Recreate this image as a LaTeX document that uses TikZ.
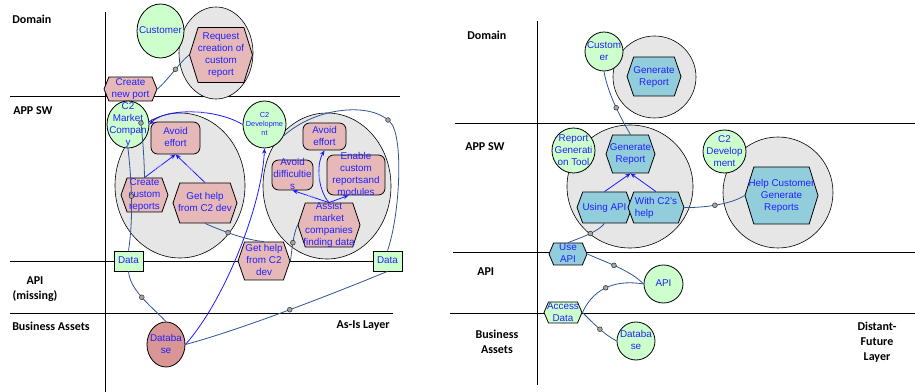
\documentclass[tikz,border=0pt]{standalone}
\usepackage{fontspec}
\setmainfont{Liberation Sans}
\newfontfamily\headfont{Carlito}
\usetikzlibrary{shapes.symbols,shapes.geometric,arrows.meta}
\definecolor{gfill}{HTML}{CCFFCC}
\definecolor{pfill}{HTML}{E6B9B8}
\definecolor{dbfill}{HTML}{D99694}
\definecolor{grayfill}{HTML}{E6E6E6}
\definecolor{tfill}{HTML}{92CDDC}
\definecolor{dline}{HTML}{2F5597}
\definecolor{bline}{HTML}{1A1AFF}
\definecolor{txt}{HTML}{2020FF}
\newcommand\tx[1]{\makebox[0pt]{\smash{\raisebox{-0.27em}{\begin{tabular}[c]{@{}c@{}}#1\end{tabular}}}}}
\newcommand\txl[1]{\makebox[0pt]{\smash{\raisebox{-0.27em}{\begin{tabular}[c]{@{}l@{}}#1\end{tabular}}}}}
\begin{document}
\begin{tikzpicture}[x=0.75pt,y=-0.75pt,
  lbl/.style={font=\fontsize{7.4}{9}\selectfont, text=txt, inner sep=0pt, line width=0.6pt},
  ell/.style 2 args={lbl, ellipse, draw=black, minimum width=#1*0.75pt, minimum height=#2*0.75pt},
  actor/.style 2 args={ell={#1}{#2}, fill=gfill},
  bubble/.style 2 args={ellipse, draw=black, fill=grayfill, line width=0.45pt, inner sep=0pt, minimum width=#1*0.75pt, minimum height=#2*0.75pt},
  hexa/.style 2 args={lbl, signal, signal to=west and east, draw=black, minimum width=#1*0.75pt, minimum height=#2*0.75pt, signal pointer angle={2*atan(#2/(0.24*#2+4))}},
  soft/.style 2 args={lbl, rectangle, rounded corners=5pt, draw=black, fill=pfill, minimum width=#1*0.75pt, minimum height=#2*0.75pt},
  res/.style 2 args={lbl, rectangle, draw=black, fill=gfill, minimum width=#1*0.75pt, minimum height=#2*0.75pt},
  head/.style={font=\headfont\bfseries\fontsize{9}{11.25}\selectfont, text=black, inner sep=0pt, align=center},
  lane/.style={draw=black, line width=0.6pt},
  dep/.style={draw=dline, line width=0.6pt},
  arr/.style={draw=bline, line width=0.6pt, -{Stealth[length=4pt,width=3.2pt]}},
  dotm/.style={circle, draw=black!85, fill=black!35, line width=0.35pt, minimum size=3.6pt, inner sep=0pt},
  elab/.style={font=\fontsize{3.2}{3.5}\selectfont, text=blue!20!white, sloped, inner sep=0.2pt}
]
\useasboundingbox (0,0) rectangle (915,392);
\fill[white] (0,0) rectangle (915,392);

% ---------- lanes (left) ----------
\draw[lane] (105,12) -- (105,392);
\draw[lane] (10,96) -- (400,96);
\draw[lane] (10,261) -- (402,261);
\draw[lane] (10,313) -- (393,313);
% ---------- lanes (right) ----------
\draw[lane] (537,21) -- (537,385);
\draw[lane] (455,123) -- (915,123);
\draw[lane] (453,252) -- (915,252);
\draw[lane] (450,313) -- (915,313);

% ---------- headings ----------
\node[head, anchor=west] (hL1) at (12,19) {Domain};
\node[head, anchor=west] (hL2) at (13,111) {APP SW};
\node[head] (hL3) at (35,289.5) {API\\(missing)};
\node[head, anchor=west] (hL4) at (12,326) {Business Assets};
\node[head, anchor=east] (hL5) at (390,326) {As-Is Layer};
\node[head, anchor=west] (hR1) at (467,35) {Domain};
\node[head, anchor=west] (hR2) at (465,147) {APP SW};
\node[head, anchor=west] (hR3) at (477,272) {API};
\node[head] (hR4) at (497,341.5) {Business\\Assets};
\node[head] (hR5) at (877,342.5) {Distant-\\Future\\Layer};

% ---------- bubbles ----------
\node[bubble={74}{92}] (bub1) at (216,53) {};
\node[bubble={130}{145}] (bub2) at (180,185.5) {};
\node[bubble={128}{146}] (bub3) at (327,186) {};
\node[bubble={83}{82}] (bub4) at (654.5,77) {};
\node[bubble={126}{123}] (bub5) at (630,186.5) {};
\node[bubble={110}{111}] (bub6) at (778,192.5) {};

% ---------- left nodes ----------
\node[actor={47}{54}] (cust1) at (160.5,31) {\tx{Customer}};
\node[hexa={63}{55}, fill=pfill] (request) at (221,55) {\tx{Request\\creation of\\custom\\report}};
\node[hexa={53}{24}, fill=pfill] (newport) at (130.5,89) {\tx{Create\\new port}};
\node[actor={42}{47}] (c2mc) at (128,124.5) {\tx{C2\\Market\\Compan\\y}};
\node[soft={49}{32}] (ae1) at (175.5,138) {\tx{Avoid\\effort}};
\node[hexa={47}{34}, fill=pfill] (ccr) at (144.5,195) {\tx{Create\\custom\\reports}};
\node[hexa={64}{40}, fill=pfill] (gh1) at (205,203) {\tx{Get help\\from C2 dev}};
\node[actor={43}{47}, font=\fontsize{5.5}{6.6}\selectfont] (c2dev1) at (264.5,124.5) {\tx{C2\\Developme\\nt}};
\node[soft={43}{27}] (ae2) at (324.5,136.5) {\tx{Avoid\\effort}};
\node[soft={41}{30}] (ad) at (292.5,175) {\tx{Avoid\\difficultie\\s}};
\node[soft={58}{40}] (en) at (356,175) {\tx{Enable\\custom\\reportsand\\modules}};
\node[hexa={62}{44}, fill=pfill] (assist) at (329,225) {\tx{Assist\\market\\companies\\finding data}};
\node[hexa={52}{38}, fill=pfill] (gh2) at (264,261) {\tx{Get help\\from C2\\dev}};
\node[res={29}{20}] (data1) at (128.5,261) {\tx{Data}};
\node[res={29}{20}] (data2) at (387.5,261) {\tx{Data}};
\node[ell={38}{45}, fill=dbfill] (db1) at (166,344.5) {\tx{Databa\\se}};

% ---------- right nodes ----------
\node[actor={38}{39}] (cust2) at (604,51.5) {\tx{Custom\\er}};
\node[hexa={54}{39}, fill=tfill] (gr1) at (654,76.5) {\tx{Generate\\Report}};
\node[actor={43}{45}] (rgt) at (573.5,150.5) {\tx{Report\\Generati\\on Tool}};
\node[hexa={49}{38}, fill=tfill] (gr2) at (630.5,154) {\tx{Generate\\Report}};
\node[hexa={55}{31}, fill=tfill] (uapi) at (604.5,207.5) {\tx{Using API}};
\node[hexa={56}{31}, fill=tfill] (wc2) at (656,207.5) {\txl{With C2's\\help}};
\node[actor={43}{43}] (c2dev2) at (724.5,151.5) {\tx{C2\\Develop\\ment}};
\node[hexa={73}{57}, fill=tfill] (hcg) at (781.5,195.5) {\tx{Help Customer\\Generate\\Reports}};
\node[hexa={38}{22}, fill=tfill] (useapi) at (568,254) {\tx{Use\\API}};
\node[actor={39}{38}] (api) at (663.5,284) {\tx{API}};
\node[hexa={38}{21}, fill=gfill] (access) at (563,312.5) {\tx{Access\\Data}};
\node[actor={38}{38}] (db2) at (636,341) {\tx{Databa\\se}};

% ---------- stand-alone markers ----------
\node[dotm] (m5) at (141,123) {};
\node[dotm] (m10) at (388,120) {};

% ---------- left connectors ----------
\draw[dep] (newport.east) .. controls (168,80) and (180,62) .. node[dotm,pos=.55] (m1) {} (request.west);
\draw[arr] (c2dev1.west) .. controls (215,108) and (165,108) .. node[elab,pos=.45] (l2) {is used to} (c2mc.east);
\draw[arr] (ccr.north) -- node[elab,pos=.45] (l3) {Help} (ae1.south);
\draw[arr] (gh1.north) -- node[elab,pos=.5] (l4) {Help} (ae1.south);
\draw[dep] (ccr.north) .. controls (144,150) and (142,135) .. (m5);
\draw[dep] (c2mc.south) .. controls (131,175) and (134,215) .. node[dotm,pos=.5] (m6) {} (data1.north);
\draw[dep] (data1.south) .. controls (130,290) and (150,305) .. node[dotm,pos=.5] (m7) {} (db1.north);
\draw[arr] (db1.east) .. controls (225,300) and (262,205) .. (c2dev1.south);
\draw[dep] (db1.east) .. controls (240,330) and (330,295) .. node[dotm,pos=.52] (m9) {} (data2.south);
\draw[dep] (data2.north) .. controls (400,215) and (404,135) .. (m10);
\draw[dep] (m10) .. controls (365,103) and (315,108) .. (c2dev1.-30);
\draw[dep] (gh1.south) .. controls (220,230) and (245,240) .. node[dotm,pos=.42] (m11) {} (gh2.north);
\draw[dep] (gh2.east) .. controls (292,250) and (293,235) .. node[dotm,pos=.5] (m12) {} (assist.west);
\draw[arr] (assist.north) -- node[elab,pos=.5] (l13) {Help} (ad.south);
\draw[arr] (assist.north) .. controls (318,190) and (316,165) .. node[elab,pos=.5] (l14) {Help} (ae2.south);
\draw[arr] (assist.north) -- (en.-110);

% ---------- right connectors ----------
\draw[dep] (cust2.south) .. controls (608,95) and (622,120) .. node[dotm,pos=.52] (r1) {} (gr2.north);
\draw[arr] (uapi.north) -- (gr2.south);
\draw[arr] (wc2.north) -- (gr2.south);
\draw[dep] (wc2.east) .. controls (700,208) and (730,205) .. node[dotm,pos=.5] (r4) {} (hcg.west);
\draw[dep] (uapi.south) .. controls (598,232) and (580,238) .. node[dotm,pos=.45] (r5) {} (useapi.north);
\draw[dep] (useapi.east) .. controls (605,262) and (630,270) .. node[dotm,pos=.45] (r6) {} (api.west);
\draw[dep] (access.east) .. controls (595,285) and (620,280) .. node[dotm,pos=.45] (r7) {} (api.west);
\draw[dep] (access.east) .. controls (595,325) and (605,335) .. node[dotm,pos=.5] (r8) {} (db2.west);
\end{tikzpicture}
\end{document}
